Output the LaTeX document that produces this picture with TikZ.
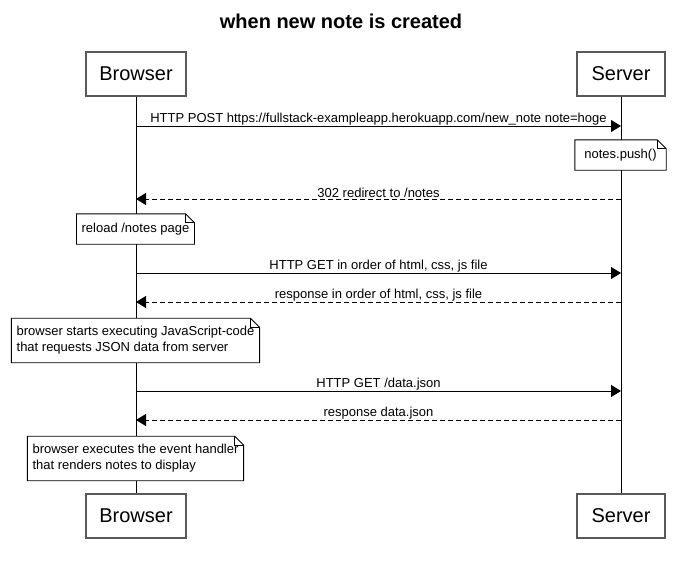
\documentclass[tikz,border=0pt]{standalone}
\usepackage{fontspec}
\setmainfont{Liberation Sans}
\usetikzlibrary{arrows.meta}
\usetikzlibrary{calc}
\usetikzlibrary{positioning}
\tikzset{
    actor/.style = {draw=black!65, line width=1.2pt, fill=white, minimum width=100, minimum height=44,
        inner sep=0pt, font=\fontsize{20}{24}\selectfont},% participant box
    lifeline/.style = {draw=black, line width=0.9pt},
    msg/.style = {-{Triangle[length=10,width=12]}, line width=0.9pt},% synchronous call
    reply/.style = {msg, dash pattern=on 5pt off 3pt},% return message
    msglabel/.style = {above=0pt, inner sep=0.5pt, font=\fontsize{13}{15}\selectfont},
    notebox/.style = {fill=white, align=left, inner xsep=5pt, inner ysep=5pt,
        font=\fontsize{13}{16}\selectfont},
}
% outline of a note with a folded corner
\newcommand{\foldnote}[1]{%
    \draw[line width=0.9pt] (#1.south west) -- (#1.north west) -- ([xshift=-9]#1.north east)
        -- ([yshift=-9]#1.north east) -- (#1.south east) -- cycle;
    \draw[line width=0.9pt] ([xshift=-9]#1.north east) |- ([yshift=-9]#1.north east);
}

\begin{document}
\begin{tikzpicture}[x=1pt,y=-1pt]
\useasboundingbox (0,0) rectangle (680,562);
\node[font=\fontsize{20}{24}\selectfont\bfseries] (title) at (341,21) {when new note is created};

% participants
\node[actor] (browserTop) at (136,74) {Browser};
\node[actor, minimum width=88] (serverTop) at (621,74) {Server};
\node[actor] (browserBot) at (136,516) {Browser};
\node[actor, minimum width=88] (serverBot) at (621,516) {Server};
\draw[lifeline] (browserTop.south) -- (browserBot.north);
\draw[lifeline] (serverTop.south) -- (serverBot.north);

% message levels
\foreach \i/\y in {1/126, 2/199, 3/273, 4/302, 5/391, 6/420} {
    \coordinate (b\i) at (136,\y);
    \coordinate (s\i) at (621,\y);
}

\draw[msg] (b1) -- node[msglabel]{HTTP POST https://fullstack-exampleapp.herokuapp.com/new\_note note=hoge} (s1);
\node[notebox, minimum width=91, minimum height=30, align=center] (push) at (620.5,155) {notes.push()};
\foldnote{push}
\draw[reply] (s2) -- node[msglabel]{302 redirect to /notes} (b2);
\node[notebox, minimum height=30] (reload) at (135.5,229) {reload /notes page};
\foldnote{reload}
\draw[msg] (b3) -- node[msglabel]{HTTP GET in order of html, css, js file} (s3);
\draw[reply] (s4) -- node[msglabel]{response in order of html, css, js file} (b4);
\node[notebox, inner ysep=8pt] (jscode) at (135.5,340.5) {browser starts executing JavaScript-code\\that requests JSON data from server};
\foldnote{jscode}
\draw[msg] (b5) -- node[msglabel]{HTTP GET /data.json} (s5);
\draw[reply] (s6) -- node[msglabel]{response data.json} (b6);
\node[notebox, inner ysep=8pt] (handler) at (135.5,458.5) {browser executes the event handler\\that renders notes to display};
\foldnote{handler}
\end{tikzpicture}
\end{document}
